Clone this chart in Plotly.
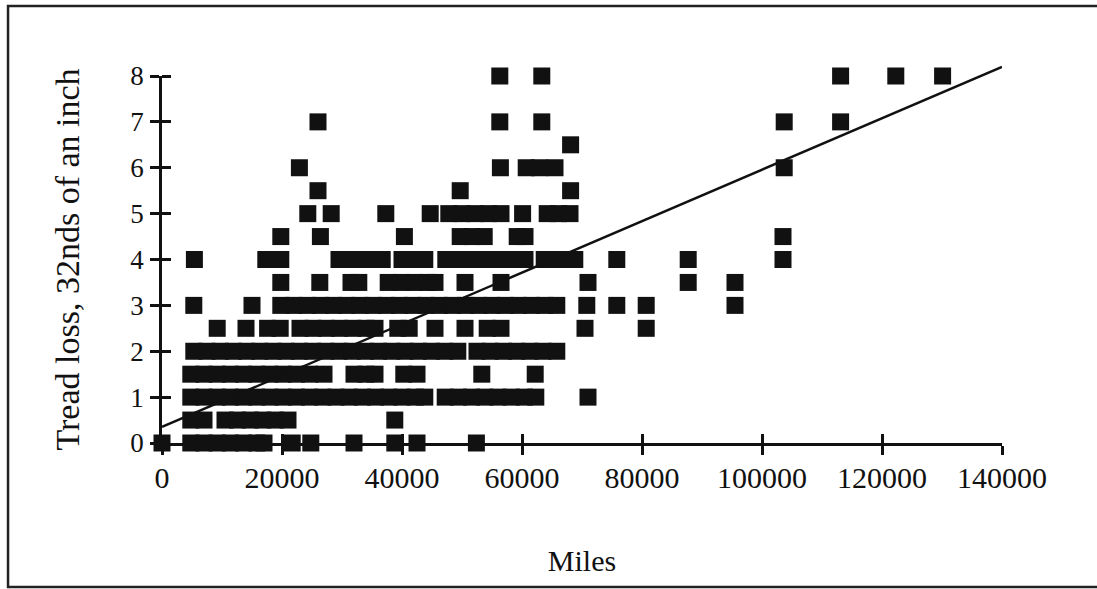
import plotly.graph_objects as go

miles_at_0 = [0, 4800, 7000, 9200, 11400, 13600, 15800, 17000, 21700, 24800, 32000, 38800, 42500, 52400]
miles_at_0_5 = [4800, 7000, 10500, 12600, 14700, 16800, 18900, 21000, 38800]
miles_at_1 = [4800, 7000, 9200, 11400, 13600, 15800, 18000, 20200, 22400, 24600, 26800, 29000, 31200,
              33400, 35600, 37800, 40000, 42200, 43800, 47200, 49400, 51600, 53800, 56000, 58200, 60400,
              62300, 71000]
miles_at_1_5 = [4800, 7000, 9200, 11400, 13600, 15800, 18000, 20200, 22400, 24600, 27000, 32000, 34000,
                35500, 40300, 42500, 53300, 62200]
miles_at_2 = [5300, 7500, 9700, 11900, 14100, 16300, 18500, 20700, 22900, 25100, 27300, 29500, 31700,
              33900, 36100, 38300, 40500, 42700, 44900, 47100, 49300, 52500, 54700, 56900, 59100, 61300,
              63500, 65800]
miles_at_2_5 = [9200, 14000, 17600, 19700, 23000, 25200, 27400, 29600, 31800, 34000, 35500, 39300, 41200,
                45500, 50500, 54200, 56500, 70500, 80700]
miles_at_3 = [5300, 15000, 19800, 22000, 24200, 26400, 28600, 30800, 33000, 35200, 37400, 39600, 41800,
              44000, 46200, 48400, 50600, 52800, 55000, 57200, 59400, 61600, 63800, 65800, 70800, 75800,
              80700, 95500]
miles_at_3_5 = [19800, 26300, 31500, 32800, 37700, 39900, 42100, 44300, 45500, 50500, 56500, 71000,
                87700, 95500]
miles_at_4 = [5400, 17300, 19800, 29500, 31800, 34100, 36700, 40000, 42000, 43800, 47300, 49500, 51700,
              53900, 56100, 58300, 60500, 63700, 66200, 68800, 75800, 87700, 103500]
miles_at_4_5 = [19800, 26400, 40400, 49700, 51700, 53700, 59200, 60500, 103500]
miles_at_5 = [24300, 28200, 37300, 44700, 47800, 50000, 52200, 54400, 56500, 60100, 64200, 66100, 68000]
miles_at_5_5 = [26000, 49700, 68100]
miles_at_6 = [22900, 56400, 60700, 62900, 65500, 103700]
miles_at_6_5 = [68100]
miles_at_7 = [26000, 56300, 63300, 103700, 113100]
miles_at_8 = [56300, 63300, 113100, 122300, 130100]

levels = [0, 0.5, 1, 1.5, 2, 2.5, 3, 3.5, 4, 4.5, 5, 5.5, 6, 6.5, 7, 8]
level_miles = [miles_at_0, miles_at_0_5, miles_at_1, miles_at_1_5, miles_at_2, miles_at_2_5, miles_at_3,
               miles_at_3_5, miles_at_4, miles_at_4_5, miles_at_5, miles_at_5_5, miles_at_6, miles_at_6_5,
               miles_at_7, miles_at_8]

# fitted line end points
trend_miles = [0, 140000]
trend_loss = [0.35, 8.2]

x_ticks = [0, 20000, 40000, 60000, 80000, 100000, 120000, 140000]
y_ticks = [0, 1, 2, 3, 4, 5, 6, 7, 8]

xs, ys = [], []
for lvl, miles in zip(levels, level_miles):
    xs += miles
    ys += [lvl] * len(miles)

FONT = "Liberation Serif"
INK = "#111111"

# main plot is 367px tall; the trend line lives on a slightly taller (383px) second subplot
# so it can run past the 8 tick like in the original. Same scale, same bottom/left edge,
# so its axes also carry the inner half of the cross ticks.
MAIN_H, LINE_H = 367, 383
Y_MAX = 8
line_top = Y_MAX * LINE_H / MAIN_H

fig = go.Figure()
fig.add_trace(go.Scatter(x=xs, y=ys, mode="markers", cliponaxis=False,
                         marker=dict(symbol="square", size=17, color=INK, line=dict(width=0)),
                         showlegend=False))
fig.add_trace(go.Scatter(x=trend_miles, y=trend_loss, mode="lines", xaxis="x2", yaxis="y2",
                         line=dict(color=INK, width=2.5), showlegend=False))

axis_common = dict(showgrid=False, zeroline=False, tickcolor=INK, tickwidth=2.5, ticklen=9,
                   fixedrange=True)

fig.update_layout(
    width=1097, height=589,
    margin=dict(l=162, r=95, t=60, b=146),
    paper_bgcolor="white", plot_bgcolor="rgba(0,0,0,0)",
    font=dict(family=FONT, color=INK),
    xaxis=dict(range=[0, 140000], tickvals=x_ticks, ticktext=[str(v) for v in x_ticks],
               ticks="outside", showline=True, linecolor=INK, linewidth=2.5,
               tickfont=dict(size=30), ticklabelstandoff=-3,
               title=dict(text="Miles", font=dict(size=30), standoff=58), **axis_common),
    yaxis=dict(domain=[0, MAIN_H / LINE_H], range=[0, Y_MAX], tickvals=y_ticks, ticks="outside",
               showline=True, linecolor=INK, linewidth=2.5, tickfont=dict(size=27), ticklabelstandoff=1,
               title=dict(text="Tread loss, 32nds of an inch", font=dict(size=34), standoff=41),
               **axis_common),
    xaxis2=dict(domain=[0, 1], range=[0, 140000], anchor="y2", tickvals=x_ticks, ticks="inside",
                showticklabels=False, showline=False, **axis_common),
    yaxis2=dict(domain=[0, 1], range=[0, line_top], anchor="x2", tickvals=y_ticks, ticks="inside",
                showticklabels=False, showline=False, **axis_common),
    shapes=[dict(type="rect", xref="paper", yref="paper", x0=-0.1833, x1=1.13, y0=-0.376, y1=1.141,
                 line=dict(color="#222222", width=2.5), layer="below")],
)

fig.write_html("out.html", config={"displayModeBar": False},
               post_script="document.body.style.margin='0';")
